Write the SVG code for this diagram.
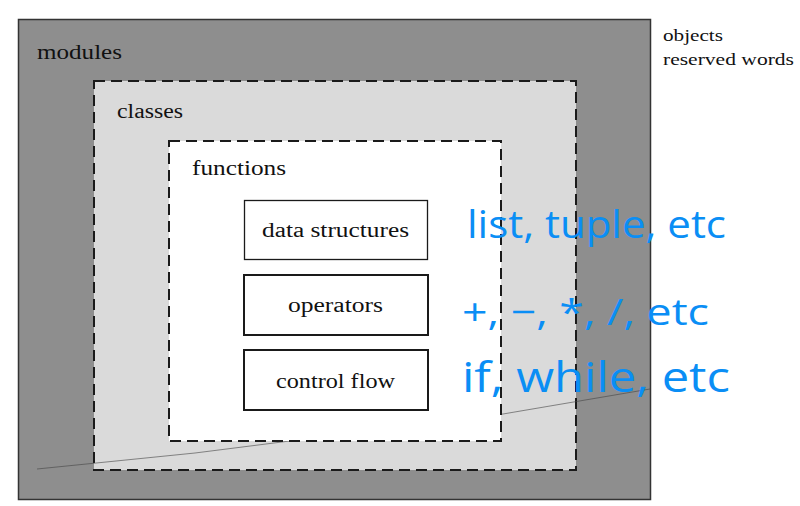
<svg xmlns="http://www.w3.org/2000/svg" width="800" height="506" viewBox="0 0 800 506">
<style>
.serif{font-family:"Liberation Serif","DejaVu Serif",serif;fill:#111}
.blue{font-family:"Open Sans","Noto Sans",sans-serif;fill:#0a8ef5}
.dash{stroke:#1a1a1a;stroke-width:2;stroke-dasharray:11 6}
.box{fill:#fff;stroke:#1a1a1a}
</style>
<rect width="800" height="506" fill="#fff"/>
<g id="modules">
<rect x="18.5" y="19.5" width="632" height="480" fill="#8e8e8e" stroke="#333" stroke-width="1.5"/>
<text class="serif" x="37" y="59" font-size="20" textLength="85" lengthAdjust="spacingAndGlyphs">modules</text>
</g>
<g id="classes">
<rect x="94" y="81" width="482" height="389" fill="#dadada" class="dash"/>
<text class="serif" x="117" y="118" font-size="20" textLength="66" lengthAdjust="spacingAndGlyphs">classes</text>
</g>
<polyline points="37,469 195,453 503,414 650,389" fill="none" stroke="#444" stroke-width="1" opacity="0.6"/>
<g id="functions">
<rect x="169" y="141" width="332" height="300" fill="#fff" class="dash"/>
<text class="serif" x="192" y="175" font-size="21" textLength="94" lengthAdjust="spacingAndGlyphs">functions</text>
</g>
<g id="data-structures">
<rect class="box" x="244.5" y="200.5" width="183" height="59" stroke-width="1.3"/>
<text class="serif" x="262" y="237" font-size="20" textLength="147" lengthAdjust="spacingAndGlyphs">data structures</text>
</g>
<g id="operators">
<rect class="box" x="244" y="275" width="184" height="60" stroke-width="2"/>
<text class="serif" x="288" y="312" font-size="20" textLength="95" lengthAdjust="spacingAndGlyphs">operators</text>
</g>
<g id="control-flow">
<rect class="box" x="244" y="350" width="184" height="60" stroke-width="2"/>
<text class="serif" x="276" y="388" font-size="20" textLength="119" lengthAdjust="spacingAndGlyphs">control flow</text>
</g>
<g id="legend">
<text class="serif" x="663" y="41" font-size="17" textLength="60" lengthAdjust="spacingAndGlyphs">objects</text>
<text class="serif" x="663" y="65" font-size="17" textLength="131" lengthAdjust="spacingAndGlyphs">reserved words</text>
</g>
<g id="annotations">
<text class="blue" x="467" y="238" font-size="38" textLength="259" lengthAdjust="spacingAndGlyphs">list, tuple, etc</text>
<text class="blue" x="462" y="325" font-size="37" textLength="247" lengthAdjust="spacingAndGlyphs">+, −, *, /, etc</text>
<text class="blue" x="462" y="392" font-size="42" textLength="268" lengthAdjust="spacingAndGlyphs">if, while, etc</text>
</g>
</svg>
